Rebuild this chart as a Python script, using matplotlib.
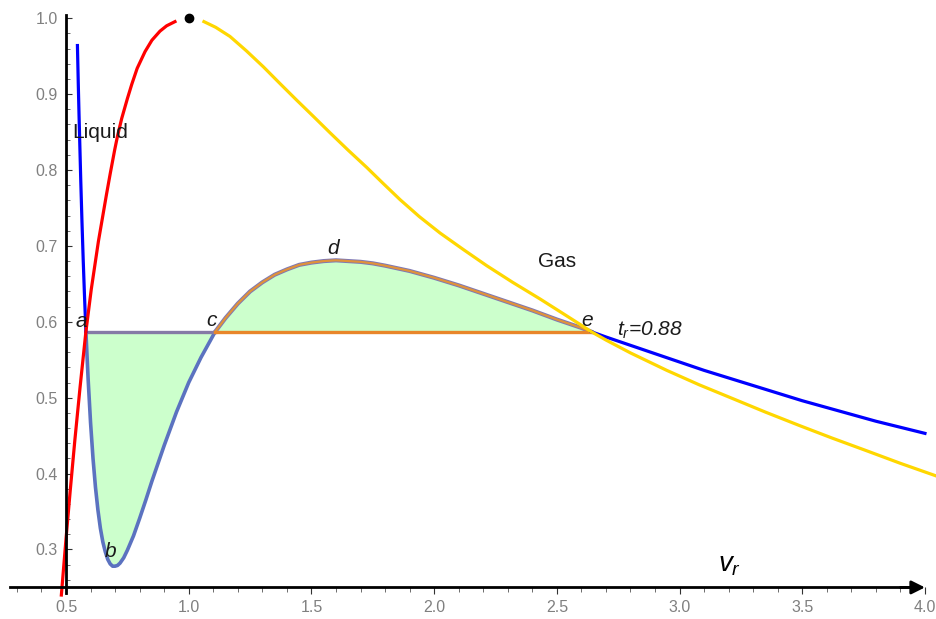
import numpy as np
import matplotlib
matplotlib.use('Agg')
import matplotlib.pyplot as plt
from matplotlib.ticker import FixedLocator, FormatStrFormatter

plt.rcParams['font.family'] = ['Liberation Sans', 'DejaVu Sans']
plt.rcParams['mathtext.fontset'] = 'custom'
plt.rcParams['mathtext.it'] = 'Liberation Sans:italic'
plt.rcParams['mathtext.rm'] = 'Liberation Sans'

# isotherm t_r = 0.88
v_iso = [0.5465, 0.55, 0.553, 0.56, 0.565, 0.57, 0.575, 0.581, 0.59, 0.60,
         0.61, 0.62, 0.63, 0.64, 0.65, 0.66, 0.67, 0.68, 0.69, 0.70,
         0.71, 0.72, 0.735, 0.75, 0.775, 0.80, 0.825, 0.85, 0.90, 0.95,
         1.00, 1.05, 1.108, 1.15, 1.20, 1.25, 1.30, 1.35, 1.40, 1.45,
         1.50, 1.55, 1.60, 1.65, 1.70, 1.75, 1.80, 1.90, 2.00, 2.10,
         2.20, 2.30, 2.40, 2.50, 2.60, 2.64, 2.70, 2.80, 2.90, 3.00,
         3.10, 3.20, 3.30, 3.40, 3.50, 3.60, 3.70, 3.80, 3.90, 4.00]
p_iso = [0.964, 0.913, 0.873, 0.787, 0.732, 0.682, 0.637, 0.587, 0.525, 0.467,
         0.420, 0.382, 0.352, 0.328, 0.310, 0.297, 0.287, 0.281, 0.278, 0.278,
         0.279, 0.282, 0.289, 0.299, 0.318, 0.341, 0.365, 0.390, 0.437, 0.481,
         0.520, 0.553, 0.587, 0.605, 0.624, 0.640, 0.652, 0.662, 0.669, 0.675,
         0.678, 0.680, 0.681, 0.680, 0.679, 0.677, 0.674, 0.667, 0.658, 0.648,
         0.637, 0.626, 0.615, 0.603, 0.592, 0.587, 0.580, 0.569, 0.558, 0.547,
         0.536, 0.526, 0.516, 0.506, 0.496, 0.487, 0.478, 0.469, 0.461, 0.453]

# maxwell line
p_sat = 0.587
v_a, v_c, v_e = 0.581, 1.108, 2.64

# coexistence curve, liquid (red) and gas (yellow) sides
v_liq = [0.481, 0.500, 0.517, 0.536, 0.557, 0.581, 0.603, 0.632, 0.665,
         0.680, 0.698, 0.710, 0.727, 0.750, 0.768, 0.790, 0.822, 0.850,
         0.883, 0.910, 0.944]
p_liq = [0.240, 0.314, 0.377, 0.444, 0.513, 0.587, 0.643, 0.706, 0.768,
         0.795, 0.826, 0.845, 0.868, 0.894, 0.913, 0.934, 0.956, 0.971,
         0.983, 0.990, 0.9955]
v_gas = [1.062, 1.110, 1.168, 1.235, 1.304, 1.370, 1.440, 1.510, 1.576,
         1.650, 1.725, 1.790, 1.861, 1.940, 2.024, 2.120, 2.214, 2.320,
         2.432, 2.510, 2.595, 2.640, 2.700, 2.800, 2.948, 3.080, 3.219,
         3.350, 3.491, 3.620, 3.763, 3.900, 4.045]
p_gas = [0.9955, 0.988, 0.976, 0.957, 0.936, 0.9145, 0.892, 0.870, 0.849,
         0.826, 0.8035, 0.783, 0.761, 0.7385, 0.717, 0.695, 0.674, 0.652,
         0.630, 0.614, 0.5965, 0.587, 0.576, 0.559, 0.536, 0.517, 0.4985,
         0.481, 0.463, 0.447, 0.430, 0.4135, 0.397]
crit_v, crit_p = 1.0, 1.0

x_ticks = [0.5, 1.0, 1.5, 2.0, 2.5, 3.0, 3.5, 4.0]
y_ticks = [0.3, 0.4, 0.5, 0.6, 0.7, 0.8, 0.9, 1.0]

point_names = ['a', 'b', 'c', 'd', 'e']
point_v = [0.561, 0.683, 1.095, 1.592, 2.623]
point_p = [0.600, 0.297, 0.602, 0.697, 0.602]

fig = plt.figure(figsize=(9.36, 6.19), dpi=100)
ax = fig.add_axes([0, 0, 1, 1])
ax.set_xlim(0.231, 4.045)
ax.set_ylim(0.2084, 1.024)

v = np.array(v_iso)
p = np.array(p_iso)
eps = 1e-9
left = v <= v_a + eps
right = v >= v_e - eps
mid = (v >= v_a - eps) & (v <= v_e + eps)
well = (v >= v_a - eps) & (v <= v_c + eps)
hump = (v >= v_c - eps) & (v <= v_e + eps)

ax.fill_between(v[mid], p[mid], p_sat, color='#ccffcc', lw=0, zorder=1)
ax.plot(v[well], p[well], color='#5b72c0', lw=2.6, zorder=2,
        solid_capstyle='round')
ax.plot(v[hump], p[hump], color='#7f78b4', lw=3.0, zorder=2)
ax.plot(v[hump], p[hump], color='#e0923a', lw=1.6, zorder=2.1)
ax.plot([v_a, v_c], [p_sat, p_sat], color='#857aa6', lw=2.4, zorder=2)
ax.plot([v_c, v_e], [p_sat, p_sat], color='#e8862a', lw=2.4, zorder=2.2)

ax.plot(v[left], p[left], color='#0000ff', lw=2.3, zorder=3)
ax.plot(v[right], p[right], color='#0000ff', lw=2.3, zorder=3)
ax.plot(v_liq, p_liq, color='#ff0000', lw=2.3, zorder=4)
ax.plot(v_gas, p_gas, color='#ffd700', lw=2.3, zorder=4)
ax.plot([crit_v], [crit_p], 'o', color='black', ms=6, zorder=5)

# labels
ax.text(0.524, 0.849, 'Liquid', fontsize=15, color='#1a1a1a', va='center', zorder=6)
ax.text(2.423, 0.679, 'Gas', fontsize=15, color='#1a1a1a', va='center', zorder=6)
ax.text(2.744, 0.589, r'$t_r$=0.88', fontsize=15, fontstyle='italic',
        color='#1a1a1a', va='center', zorder=6)
for name, pv, pp in zip(point_names, point_v, point_p):
    ax.text(pv, pp, r'$%s$' % name, fontsize=15, color='#1a1a1a',
            ha='center', va='center', zorder=6)
ax.text(3.157, 0.279, r'$v_r$', fontsize=20, color='black', va='center', zorder=6)

# axes through (0.5, 0.25)
for s in ['top', 'right']:
    ax.spines[s].set_visible(False)
ax.spines['bottom'].set_position(('data', 0.25))
ax.spines['left'].set_position(('data', 0.5))
ax.spines['bottom'].set_bounds(0.272, 3.95)
ax.spines['left'].set_bounds(0.242, 1.004)
for s in ['bottom', 'left']:
    ax.spines[s].set_linewidth(2.0)
    ax.spines[s].set_zorder(5)
ax.annotate('', xy=(4.0, 0.25), xytext=(3.9, 0.25),
            arrowprops=dict(arrowstyle='-|>', color='black', lw=2.0,
                            mutation_scale=20, shrinkA=0, shrinkB=0),
            zorder=6)

ax.xaxis.set_major_locator(FixedLocator(x_ticks))
ax.xaxis.set_minor_locator(FixedLocator([0.3 + 0.1 * i for i in range(38)]))
ax.yaxis.set_major_locator(FixedLocator(y_ticks))
ax.yaxis.set_minor_locator(FixedLocator([0.26 + 0.02 * i for i in range(38)]))
ax.xaxis.set_major_formatter(FormatStrFormatter('%.1f'))
ax.yaxis.set_major_formatter(FormatStrFormatter('%.1f'))
ax.tick_params(axis='x', which='major', direction='out', length=5, width=0.8,
               pad=4, labelsize=11.5, labelcolor='#808080', color='#333333')
ax.tick_params(axis='x', which='minor', direction='out', length=3.5, width=0.6,
               color='#555555')
ax.tick_params(axis='y', which='major', direction='in', length=4.5, width=0.8,
               pad=6, labelsize=11.5, labelcolor='#808080', color='#333333')
ax.tick_params(axis='y', which='minor', direction='in', length=3, width=0.6,
               color='#555555')

fig.savefig('out.png', dpi=100)
